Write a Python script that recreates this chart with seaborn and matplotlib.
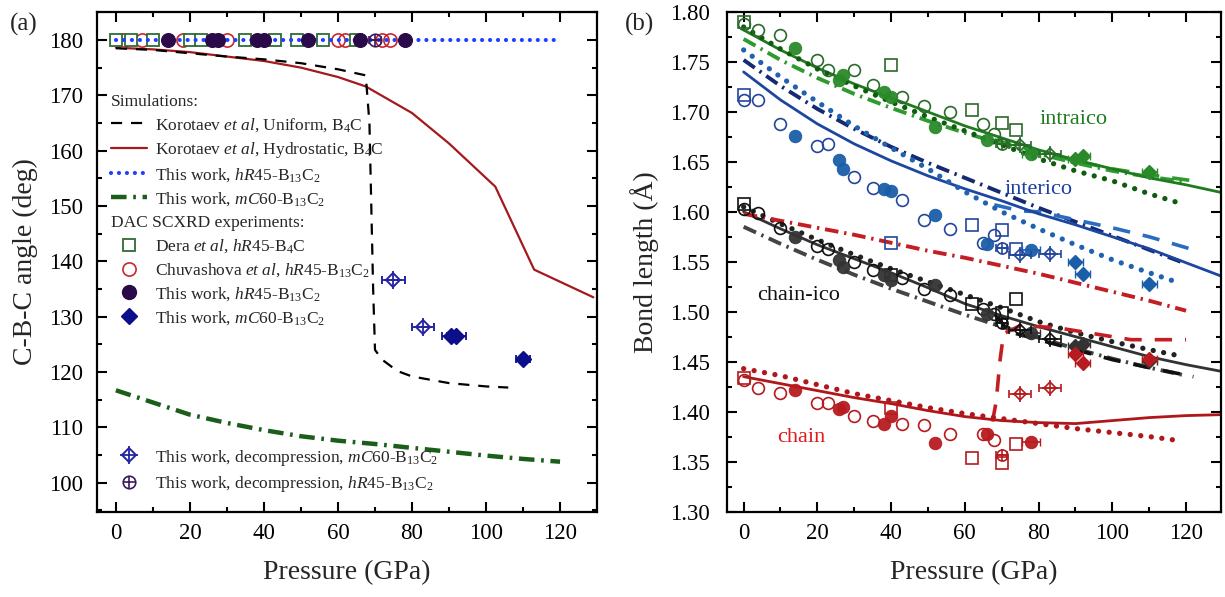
import matplotlib
matplotlib.use("Agg")
import matplotlib.pyplot as plt
import seaborn as sns
from matplotlib.lines import Line2D
from matplotlib.legend_handler import HandlerTuple
from matplotlib.ticker import MultipleLocator, FormatStrFormatter

sns.set_style("ticks")
plt.rcParams.update({
    "font.family": ["Liberation Serif", "DejaVu Serif"],
    "mathtext.fontset": "custom",
    "mathtext.rm": "Liberation Serif",
    "mathtext.it": "Liberation Serif:italic",
    "mathtext.bf": "Liberation Serif:bold",
    "axes.linewidth": 1.6,
    "axes.edgecolor": "black",
})

# ---------------- Panel (a) data: C-B-C angle (deg) vs pressure (GPa) ----------------
p_sim_hr = [0, 120]
ang_sim_hr = [180, 180]
p_uni = [0, 10, 20, 30, 40, 50, 60, 67.5, 68.5, 69, 69.5, 70, 72, 76, 80, 90, 100, 106]
ang_uni = [178.5, 178.2, 177.6, 177.0, 176.5, 175.8, 174.7, 173.6, 165, 150, 135, 124,
           122.2, 120.2, 119.2, 118.0, 117.4, 117.2]
p_hyd = [0, 10, 20, 30, 40, 50, 60, 67.5, 80, 90, 102.5, 113, 129]
ang_hyd = [178.6, 178.3, 177.8, 177.0, 176.2, 175.0, 173.3, 171.6, 166.8, 161.3, 153.5, 138.5, 133.5]
p_mc_sim = [0, 10, 20, 30, 40, 50, 60, 70, 80, 90, 100, 110, 120]
ang_mc_sim = [116.7, 114.5, 112.3, 110.8, 109.5, 108.4, 107.6, 107.0, 106.3, 105.6, 104.9, 104.3, 103.8]

p_dera_a = [0, 4, 10, 20, 23, 35, 43, 49, 56, 65]
ang_dera_a = [180, 180, 180, 180, 180, 180, 180, 180, 180, 180]
p_chuv_a = [2, 7, 18, 30, 60, 62, 72, 74]
ang_chuv_a = [180, 180, 180, 180, 180, 180, 180, 180]
p_twhr_a = [14, 26, 27.5, 38, 40, 52, 66, 78]
ang_twhr_a = [180, 180, 180, 180, 180, 180, 180, 180]
p_twmc_a = [90.5, 92, 110]
ang_twmc_a = [126.5, 126.5, 122.3]
err_twmc_a = [2.5, 2.5, 2.0]
p_decmc_a = [75, 83]
ang_decmc_a = [136.7, 128.1]
err_decmc_a = [3.0, 3.0]
p_dechr_a = [70]
ang_dechr_a = [180]

# ---------------- Panel (b) data: bond lengths (Å) ----------------
P_DERA = [0, 40, 62, 70, 74]
P_CHUV = [0, 4, 10, 20, 23, 30, 35, 43, 49, 56, 65, 68]
P_TWHR = [14, 26, 27, 38, 40, 52, 66, 78]
P_TWMC = [90, 92, 110]
P_DECMC = [75, 83]
P_DECHR = [70]

# intraico
intra_dera = [1.790, 1.747, 1.702, 1.689, 1.682]
intra_chuv = [1.788, 1.782, 1.777, 1.752, 1.742, 1.742, 1.727, 1.715, 1.706, 1.700, 1.688, 1.678]
intra_twhr = [1.764, 1.732, 1.737, 1.720, 1.715, 1.685, 1.672, 1.658]
intra_twmc = [1.653, 1.656, 1.640]
intra_decmc = [1.667, 1.658]
intra_dechr = [1.668]
# interico
inter_dera = [1.717, 1.569, 1.587, 1.582, 1.563]
inter_chuv = [1.712, 1.712, 1.688, 1.666, 1.668, 1.635, 1.624, 1.612, 1.592, 1.583, 1.569, 1.577]
inter_twhr = [1.676, 1.652, 1.643, 1.623, 1.621, 1.597, 1.568, 1.562]
inter_twmc = [1.550, 1.538, 1.528]
inter_decmc = [1.557, 1.558]
inter_dechr = [1.564]
# chain-ico
ci_dera = [1.608, 1.537, 1.508, 1.499, 1.513]
ci_chuv = [1.603, 1.599, 1.584, 1.566, 1.563, 1.550, 1.542, 1.534, 1.523, 1.517, 1.503, 1.498]
ci_twhr = [1.575, 1.552, 1.545, 1.537, 1.532, 1.527, 1.498, 1.479]
ci_twmc = [1.466, 1.468, 1.451]
ci_decmc = [1.482, 1.473]
ci_dechr = [1.489]
# chain
ch_dera = [1.434, 1.404, 1.354, 1.349, 1.368]
ch_chuv = [1.432, 1.424, 1.419, 1.409, 1.409, 1.396, 1.391, 1.388, 1.387, 1.378, 1.378, 1.372]
ch_twhr = [1.422, 1.403, 1.405, 1.388, 1.396, 1.369, 1.378, 1.370]
ch_twmc = [1.458, 1.449, 1.453]
ch_decmc = [1.418, 1.424]
ch_dechr = [1.357]

# simulated curves (panel b)
PS_HYD = [0, 10, 20, 30, 40, 50, 60, 70, 80, 90, 100, 110, 120, 130]
PS_HR = [0, 10, 20, 30, 40, 50, 60, 70, 80, 90, 100, 110, 118]
PS_MC = [0, 10, 20, 30, 40, 50, 60, 70, 80, 90, 100, 110, 120]
intra_hyd = [1.782, 1.762, 1.744, 1.728, 1.714, 1.700, 1.686, 1.674, 1.662, 1.652, 1.643, 1.634, 1.627, 1.619]
intra_hr = [1.785, 1.763, 1.743, 1.726, 1.710, 1.695, 1.681, 1.667, 1.653, 1.641, 1.631, 1.618, 1.609]
intra_mc = [1.773, 1.752, 1.734, 1.718, 1.704, 1.691, 1.679, 1.668, 1.658, 1.649, 1.641, 1.635, 1.630]
inter_hyd = [1.740, 1.712, 1.688, 1.668, 1.651, 1.636, 1.623, 1.611, 1.598, 1.587, 1.575, 1.563, 1.549, 1.535]
inter_hr = [1.762, 1.735, 1.710, 1.686, 1.664, 1.643, 1.620, 1.600, 1.583, 1.567, 1.552, 1.539, 1.529]
inter_mc = [1.752, 1.726, 1.703, 1.683, 1.665, 1.649, 1.634, 1.619, 1.604, 1.590, 1.576, 1.562, 1.548]
ci_hyd = [1.600, 1.583, 1.567, 1.553, 1.539, 1.524, 1.508, 1.496, 1.485, 1.475, 1.465, 1.455, 1.447, 1.440]
ci_hr = [1.605, 1.588, 1.572, 1.557, 1.543, 1.530, 1.517, 1.504, 1.490, 1.479, 1.470, 1.462, 1.456]
ci_mc = [1.585, 1.568, 1.552, 1.537, 1.523, 1.510, 1.497, 1.485, 1.474, 1.463, 1.453, 1.444, 1.436]
ch_hyd = [1.435, 1.428, 1.421, 1.414, 1.408, 1.401, 1.395, 1.391, 1.389, 1.388, 1.391, 1.394, 1.396, 1.397]
ch_hr = [1.443, 1.436, 1.427, 1.418, 1.411, 1.404, 1.398, 1.393, 1.388, 1.383, 1.379, 1.375, 1.371]
ch_mc = [1.598, 1.591, 1.584, 1.577, 1.569, 1.561, 1.554, 1.546, 1.538, 1.529, 1.520, 1.511, 1.501]
# Korotaev uniform (visible after the transition)
PU_INTRA = [68, 80, 90, 100, 110, 122]
intra_uni = [1.672, 1.660, 1.651, 1.643, 1.637, 1.631]
PU_INTER = [68, 75, 80, 90, 100, 110, 122]
inter_uni = [1.607, 1.601, 1.600, 1.592, 1.584, 1.575, 1.562]
PU_CI = [68, 72, 80, 90, 100, 110, 122]
ci_uni = [1.498, 1.480, 1.472, 1.462, 1.452, 1.444, 1.435]
PU_CH = [67.5, 68.5, 69.5, 70.5, 75, 85, 95, 105, 120]
ch_uni = [1.390, 1.410, 1.450, 1.478, 1.486, 1.484, 1.478, 1.472, 1.472]

label_txt = ["intraico", "interico", "chain-ico", "chain"]
label_p = [89.5, 80, 15, 15.7]
label_v = [1.692, 1.622, 1.516, 1.374]

# ---------------- styles ----------------
LS_UNI = (0, (5, 4))
LS_DOT = (0, (0.01, 2.0))
LS_DD = (0, (3.5, 1.5, 0.6, 1.5))
LS_DASH = (0, (4.8, 3.6))

C_HYD = "#a3191c"
C_HRSIM = "#2040ff"
C_MCSIM = "#1b5e1b"
C_DERA = "#2e6b35"
C_CHUV = "#c8282d"
C_TWHR = "#2b0a4a"
C_TWMC = "#0c0f8a"
C_DEC = "#2424a0"
C_DECHR = "#3a1a5a"


def sline(ax, x, y, color, lw, ls="-", z=2, **kw):
    sns.lineplot(x=x, y=y, ax=ax, color=color, linewidth=lw, linestyle=ls,
                 sort=False, estimator=None, zorder=z, **kw)


fig = plt.figure(figsize=(12.25, 5.97), dpi=100)
axA = fig.add_axes([0.0789, 0.1432, 0.4082, 0.8367])
axB = fig.add_axes([0.5932, 0.1432, 0.4033, 0.8367])

# ---------------- Panel (a) ----------------
sline(axA, p_hyd, ang_hyd, C_HYD, 1.6)
sline(axA, p_uni, ang_uni, "black", 1.6, LS_UNI, z=2.5)
sline(axA, p_mc_sim, ang_mc_sim, C_MCSIM, 3.2, LS_DD)
axA.plot(p_chuv_a, ang_chuv_a, ls="none", marker="o", ms=9.5, mfc="none", mec=C_CHUV, mew=1.2, zorder=3)
axA.plot(p_dera_a, ang_dera_a, ls="none", marker="s", ms=8.5, mfc="white", mec=C_DERA, mew=1.3, zorder=4)
sline(axA, p_sim_hr, ang_sim_hr, C_HRSIM, 3.0, (0, (0.01, 1.9)), z=5, dash_capstyle="round")
sns.scatterplot(x=p_twhr_a, y=ang_twhr_a, ax=axA, color=C_TWHR, s=100, edgecolor=C_TWHR, zorder=6)
axA.errorbar(p_dechr_a, ang_dechr_a, xerr=[1.5], fmt="o", ms=9, mfc="none", mec=C_DECHR, mew=1.2,
             ecolor=C_DECHR, elinewidth=1.2, capsize=3, zorder=7)
axA.plot(p_dechr_a, ang_dechr_a, ls="none", marker="+", ms=9, mec=C_DECHR, mew=1.2, zorder=7)
axA.errorbar(p_twmc_a, ang_twmc_a, xerr=err_twmc_a, fmt="D", ms=8, color=C_TWMC, mfc=C_TWMC, mec=C_TWMC,
             elinewidth=1.3, capsize=3, capthick=1.3, zorder=6)
axA.errorbar(p_decmc_a, ang_decmc_a, xerr=err_decmc_a, fmt="D", ms=7, color=C_DEC, mfc="none", mec=C_DEC,
             mew=1.4, elinewidth=1.3, capsize=3, capthick=1.3, zorder=6)
axA.plot(p_decmc_a, ang_decmc_a, ls="none", marker="+", ms=13, mec=C_DEC, mew=1.3, zorder=6)

axA.set_xlim(-5.2, 129.9)
axA.set_ylim(94.8, 185.05)
axA.xaxis.set_major_locator(MultipleLocator(20))
axA.xaxis.set_minor_locator(MultipleLocator(10))
axA.yaxis.set_major_locator(MultipleLocator(10))
axA.yaxis.set_minor_locator(MultipleLocator(5))
axA.set_xlabel("Pressure (GPa)", fontsize=20, labelpad=12)
axA.set_ylabel("C-B-C angle (deg)", fontsize=20, labelpad=8)

# legends panel (a)
fs_leg = 12.5
h1 = [Line2D([], [], color="black", lw=1.6, ls=LS_UNI),
      Line2D([], [], color=C_HYD, lw=1.6),
      Line2D([], [], color=C_HRSIM, lw=3.0, ls=(0, (0.01, 1.9)), dash_capstyle="round"),
      Line2D([], [], color=C_MCSIM, lw=3.2, ls=LS_DD)]
l1 = [r"Korotaev $\mathit{et\ al}$, Uniform, B$_4$C",
      r"Korotaev $\mathit{et\ al}$, Hydrostatic, B$_4$C",
      r"This work, $\mathit{hR}$45-B$_{13}$C$_2$",
      r"This work, $\mathit{mC}$60-B$_{13}$C$_2$"]
h2 = [Line2D([], [], ls="none", marker="s", ms=8.5, mfc="white", mec=C_DERA, mew=1.3),
      Line2D([], [], ls="none", marker="o", ms=9.5, mfc="none", mec=C_CHUV, mew=1.2),
      Line2D([], [], ls="none", marker="o", ms=10, color=C_TWHR),
      Line2D([], [], ls="none", marker="D", ms=8, color=C_TWMC)]
l2 = [r"Dera $\mathit{et\ al}$, $\mathit{hR}$45-B$_4$C",
      r"Chuvashova $\mathit{et\ al}$, $\mathit{hR}$45-B$_{13}$C$_2$",
      r"This work, $\mathit{hR}$45-B$_{13}$C$_2$",
      r"This work, $\mathit{mC}$60-B$_{13}$C$_2$"]
h3 = [(Line2D([], [], ls="none", marker="D", ms=7, mfc="none", mec=C_DEC, mew=1.4),
       Line2D([], [], ls="none", marker="+", ms=13, mec=C_DEC, mew=1.3)),
      (Line2D([], [], ls="none", marker="o", ms=9, mfc="none", mec=C_DECHR, mew=1.2),
       Line2D([], [], ls="none", marker="+", ms=9, mec=C_DECHR, mew=1.2))]
l3 = [r"This work, decompression, $\mathit{mC}$60-B$_{13}$C$_2$",
      r"This work, decompression, $\mathit{hR}$45-B$_{13}$C$_2$"]
common = dict(frameon=False, fontsize=fs_leg, title_fontsize=fs_leg, handlelength=2.1,
              handletextpad=0.45, labelspacing=0.35, borderpad=0, borderaxespad=0,
              loc="upper left", alignment="left",
              handler_map={tuple: HandlerTuple(ndivide=1)})
leg1 = axA.legend(h1, l1, title="Simulations:", bbox_to_anchor=(0.0286, 0.836), **common)
axA.add_artist(leg1)
leg2 = axA.legend(h2, l2, title="DAC SCXRD experiments:", bbox_to_anchor=(0.0286, 0.593), **common)
axA.add_artist(leg2)
leg3 = axA.legend(h3, l3, bbox_to_anchor=(0.0286, 0.128), **common)

# ---------------- Panel (b) ----------------
groups = [
    dict(d=intra_dera, c=intra_chuv, h=intra_twhr, m=intra_twmc, dm=intra_decmc, dh=intra_dechr,
         hyd=intra_hyd, hr=intra_hr, mc=intra_mc, pu=PU_INTRA, uni=intra_uni,
         col=dict(solid="#1e7b1e", dot="#0f5c0f", dd="#2f9a2f", dash="#2f9a2f", mk="#2a6a2a", fill="#2a8a2a")),
    dict(d=inter_dera, c=inter_chuv, h=inter_twhr, m=inter_twmc, dm=inter_decmc, dh=inter_dechr,
         hyd=inter_hyd, hr=inter_hr, mc=inter_mc, pu=PU_INTER, uni=inter_uni,
         col=dict(solid="#1c46a0", dot="#1f63b0", dd="#142a72", dash="#2a6cc0", mk="#24459c", fill="#1b5ea8")),
    dict(d=ci_dera, c=ci_chuv, h=ci_twhr, m=ci_twmc, dm=ci_decmc, dh=ci_dechr,
         hyd=ci_hyd, hr=ci_hr, mc=ci_mc, pu=PU_CI, uni=ci_uni,
         col=dict(solid="#333333", dot="#222222", dd="#444444", dash="#111111", mk="#111111", fill="#333333")),
    dict(d=ch_dera, c=ch_chuv, h=ch_twhr, m=ch_twmc, dm=ch_decmc, dh=ch_dechr,
         hyd=ch_hyd, hr=ch_hr, mc=ch_mc, pu=PU_CH, uni=ch_uni,
         col=dict(solid="#b0171b", dot="#b0171b", dd="#c41d22", dash="#c41d22", mk="#b31b1f", fill="#b81b1f")),
]
for g in groups:
    col = g["col"]
    sline(axB, PS_MC, g["mc"], col["dd"], 2.8, LS_DD)
    sline(axB, g["pu"], g["uni"], col["dash"], 2.6, LS_DASH)
    sline(axB, PS_HYD, g["hyd"], col["solid"], 2.0)
    sline(axB, PS_HR, g["hr"], col["dot"], 3.8, LS_DOT, dash_capstyle="round")

for g in groups:
    col = g["col"]
    axB.plot(P_DERA, g["d"], ls="none", marker="s", ms=8, mfc="none", mec=col["mk"], mew=1.2, zorder=4)
    axB.plot(P_CHUV, g["c"], ls="none", marker="o", ms=8.5, mfc="none", mec=col["mk"], mew=1.2, zorder=4)
    sns.scatterplot(x=P_TWHR, y=g["h"], ax=axB, color=col["fill"], s=80, edgecolor=col["fill"],
                    alpha=0.95, zorder=5)
    axB.errorbar(P_TWHR[-1:], g["h"][-1:], xerr=[2.5], fmt="none", ecolor=col["fill"], elinewidth=1.2,
                 capsize=3, zorder=5)
    axB.errorbar(P_TWMC, g["m"], xerr=[2.0, 2.0, 2.0], fmt="D", ms=7, color=col["fill"], mfc=col["fill"],
                 mec=col["fill"], elinewidth=1.2, capsize=3, zorder=5)
    axB.errorbar(P_DECMC, g["dm"], xerr=[3.0, 3.0], fmt="D", ms=6, color=col["mk"], mfc="none",
                 mec=col["mk"], mew=1.2, elinewidth=1.2, capsize=3, zorder=6)
    axB.plot(P_DECMC, g["dm"], ls="none", marker="+", ms=11, mec=col["mk"], mew=1.2, zorder=6)
    axB.errorbar(P_DECHR, g["dh"], xerr=[1.5], fmt="o", ms=8, mfc="none", mec=col["mk"], mew=1.2,
                 ecolor=col["mk"], elinewidth=1.2, capsize=3, zorder=6)
    axB.plot(P_DECHR, g["dh"], ls="none", marker="+", ms=8, mec=col["mk"], mew=1.2, zorder=6)

label_cols = ["#1e7b1e", "#1c3ea0", "#111111", "#e0191c"]
for t, x, y, c in zip(label_txt, label_p, label_v, label_cols):
    axB.text(x, y, t, color=c, fontsize=16, ha="center", va="center")

axB.set_xlim(-4.6, 129.4)
axB.set_ylim(1.30, 1.80)
axB.xaxis.set_major_locator(MultipleLocator(20))
axB.xaxis.set_minor_locator(MultipleLocator(10))
axB.yaxis.set_major_locator(MultipleLocator(0.05))
axB.yaxis.set_minor_locator(MultipleLocator(0.025))
axB.yaxis.set_major_formatter(FormatStrFormatter("%.2f"))
axB.set_xlabel("Pressure (GPa)", fontsize=20, labelpad=12)
axB.set_ylabel("Bond length (Å)", fontsize=20, labelpad=8)

for ax, ypad in ((axA, 10), (axB, 12)):
    ax.tick_params(which="both", direction="in", top=True, right=True, width=1.5, colors="black")
    ax.tick_params(which="major", length=7)
    ax.tick_params(which="minor", length=3.5)
    ax.tick_params(axis="x", which="major", labelsize=16.5, pad=8)
    ax.tick_params(axis="y", which="major", labelsize=16.5, pad=ypad)
    for s in ax.spines.values():
        s.set_linewidth(1.6)
        s.set_color("black")

fig.text(0.008, 0.978, "(a)", fontsize=18, ha="left", va="top")
fig.text(0.510, 0.978, "(b)", fontsize=18, ha="left", va="top")

fig.savefig("out.png", dpi=100)
